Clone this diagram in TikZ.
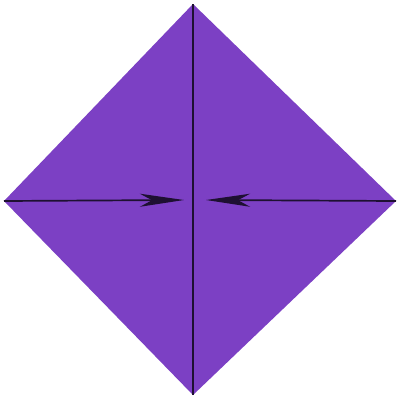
\documentclass[tikz,border=0pt]{standalone}
\usetikzlibrary{arrows.meta}
\definecolor{paper}{RGB}{124,64,196}
\definecolor{crease}{RGB}{30,16,50}
\tikzset{
  foldline/.style={draw=crease, line width=1.7pt},
  fold arrow/.style={foldline, -{Stealth[length=44pt, width=13pt, inset=12pt]}}
}
\begin{document}
\begin{tikzpicture}[x=1pt, y=-1pt]
\useasboundingbox (0,0) rectangle (398,405);
\coordinate (T) at (193,4);
\coordinate (L) at (4,201);
\coordinate (R) at (396,201);
\coordinate (B) at (193,395);
\coordinate (TL) at (184,200);
\coordinate (TR) at (206,200);
\fill[paper] (T) -- (R) -- (B) -- (L) -- cycle;
\draw[foldline] (T) -- (B);
\draw[fold arrow] (L) -- (TL);
\draw[fold arrow] (R) -- (TR);
\end{tikzpicture}
\end{document}
